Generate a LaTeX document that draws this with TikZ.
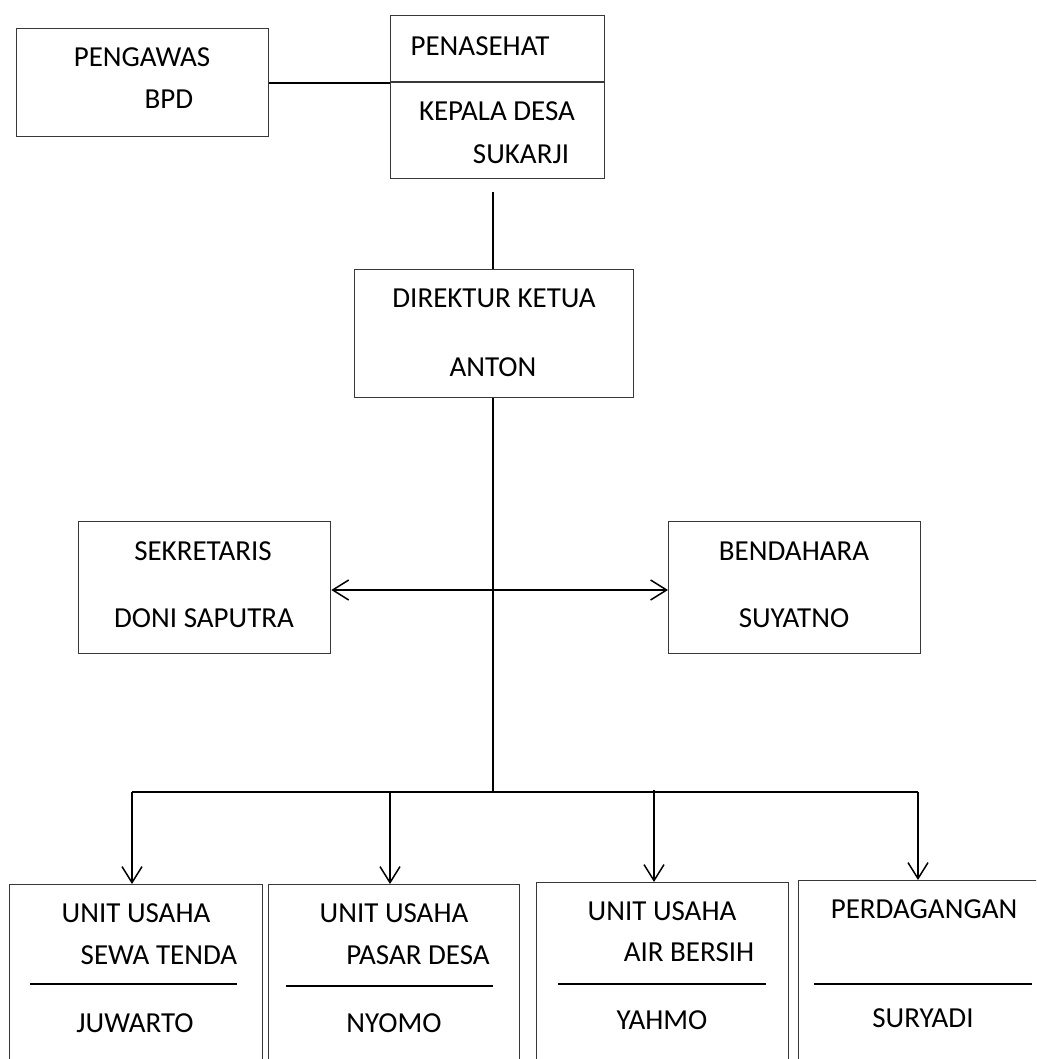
\documentclass[tikz,border=0pt]{standalone}
\usepackage{fontspec}
\setmainfont{Carlito}
\usetikzlibrary{arrows.meta}
\begin{document}
\begin{tikzpicture}[x=1pt,y=-1pt,
  box/.style={draw=black!78, line width=1.3pt, rectangle, inner sep=0pt, anchor=north west},
  lbl/.style={font=\fontsize{29}{34}\selectfont, inner sep=0pt, text height=18.7pt, text depth=0pt},
  conn/.style={line width=1.8pt, black},
  arr/.style={conn, -{Straight Barb[length=16pt,width=20pt,line width=1.5pt]}},
  darr/.style={conn, {Straight Barb[length=16pt,width=20pt,line width=1.5pt]}-{Straight Barb[length=16pt,width=20pt,line width=1.5pt]}},
  divline/.style={line width=1.8pt, black}]
\clip (0,0) rectangle (1036,1059);
\fill[white] (0,0) rectangle (1036,1059);

% top boxes
\node[box, minimum width=252pt, minimum height=108pt] (peng) at (16,28) {};
\node[box, minimum width=214pt, minimum height=163pt] (kep) at (390,15) {};
\draw[draw=black!78, line width=1.3pt] (390,82) -- (604,82);
\node[lbl] (tpeng) at (142,57) {PENGAWAS};
\node[lbl] (tbpd) at (169,99) {BPD};
\node[lbl] (tpen) at (480,46) {PENASEHAT};
\node[lbl] (tkep) at (497,111) {KEPALA DESA};
\node[lbl] (tsuk) at (521,154) {SUKARJI};

% direktur
\node[box, minimum width=279pt, minimum height=128pt] (dir) at (354,269) {};
\node[lbl] (tdir) at (494,298) {DIREKTUR KETUA};
\node[lbl] (tant) at (493,367) {ANTON};

% sekretaris / bendahara
\node[box, minimum width=252pt, minimum height=132pt] (sek) at (78,521) {};
\node[lbl] (tsek) at (203,551) {SEKRETARIS};
\node[lbl] (tdon) at (204,618) {DONI SAPUTRA};
\node[box, minimum width=252pt, minimum height=132pt] (ben) at (668,521) {};
\node[lbl] (tben) at (794,551) {BENDAHARA};
\node[lbl] (tsuy) at (794,618) {SUYATNO};

% bottom boxes
\node[box, minimum width=253pt, minimum height=220pt] (b1) at (9,884) {};
\node[box, minimum width=251pt, minimum height=220pt] (b2) at (268,884) {};
\node[box, minimum width=252pt, minimum height=220pt] (b3) at (536,882) {};
\node[box, minimum width=252pt, minimum height=220pt] (b4) at (798,880) {};

\node[lbl] (u1a) at (136,913) {UNIT USAHA};
\node[lbl] (u1b) at (159,955) {SEWA TENDA};
\node[lbl] (u1c) at (135,1023) {JUWARTO};
\draw[divline] (30,984) -- (237,984);

\node[lbl] (u2a) at (394,913) {UNIT USAHA};
\node[lbl] (u2b) at (418,955) {PASAR DESA};
\node[lbl] (u2c) at (394,1023) {NYOMO};
\draw[divline] (286,986) -- (493,986);

\node[lbl] (u3a) at (662,911) {UNIT USAHA};
\node[lbl] (u3b) at (689,952) {AIR BERSIH};
\node[lbl] (u3c) at (662,1020) {YAHMO};
\draw[divline] (558,984) -- (766,984);

\node[lbl] (u4a) at (924,909) {PERDAGANGAN};
\node[lbl] (u4c) at (923,1018) {SURYADI};
\draw[divline] (814,984) -- (1032,984);

% connectors
\coordinate (k0) at (493,192);
\coordinate (mid) at (493,590);
\coordinate (bus) at (493,792);
\coordinate (d1) at (132,792);
\coordinate (d2) at (390,792);
\coordinate (d3) at (654,792);
\coordinate (d4) at (918,792);

\draw[conn] (peng.east) -- (peng.east -| kep.west);
\draw[conn] (k0) -- (dir.north -| k0);
\draw[conn] (dir.south -| bus) -- (bus);
\draw[darr] (sek.east |- mid) -- (ben.west |- mid);
\draw[conn] (d1) -- (d4);
\draw[arr] (d1) -- (b1.north -| d1);
\draw[arr] (d2) -- (b2.north -| d2);
\draw[arr] (654,790) -- (b3.north -| d3);
\draw[arr] (d4) -- (b4.north -| d4);
\end{tikzpicture}
\end{document}
